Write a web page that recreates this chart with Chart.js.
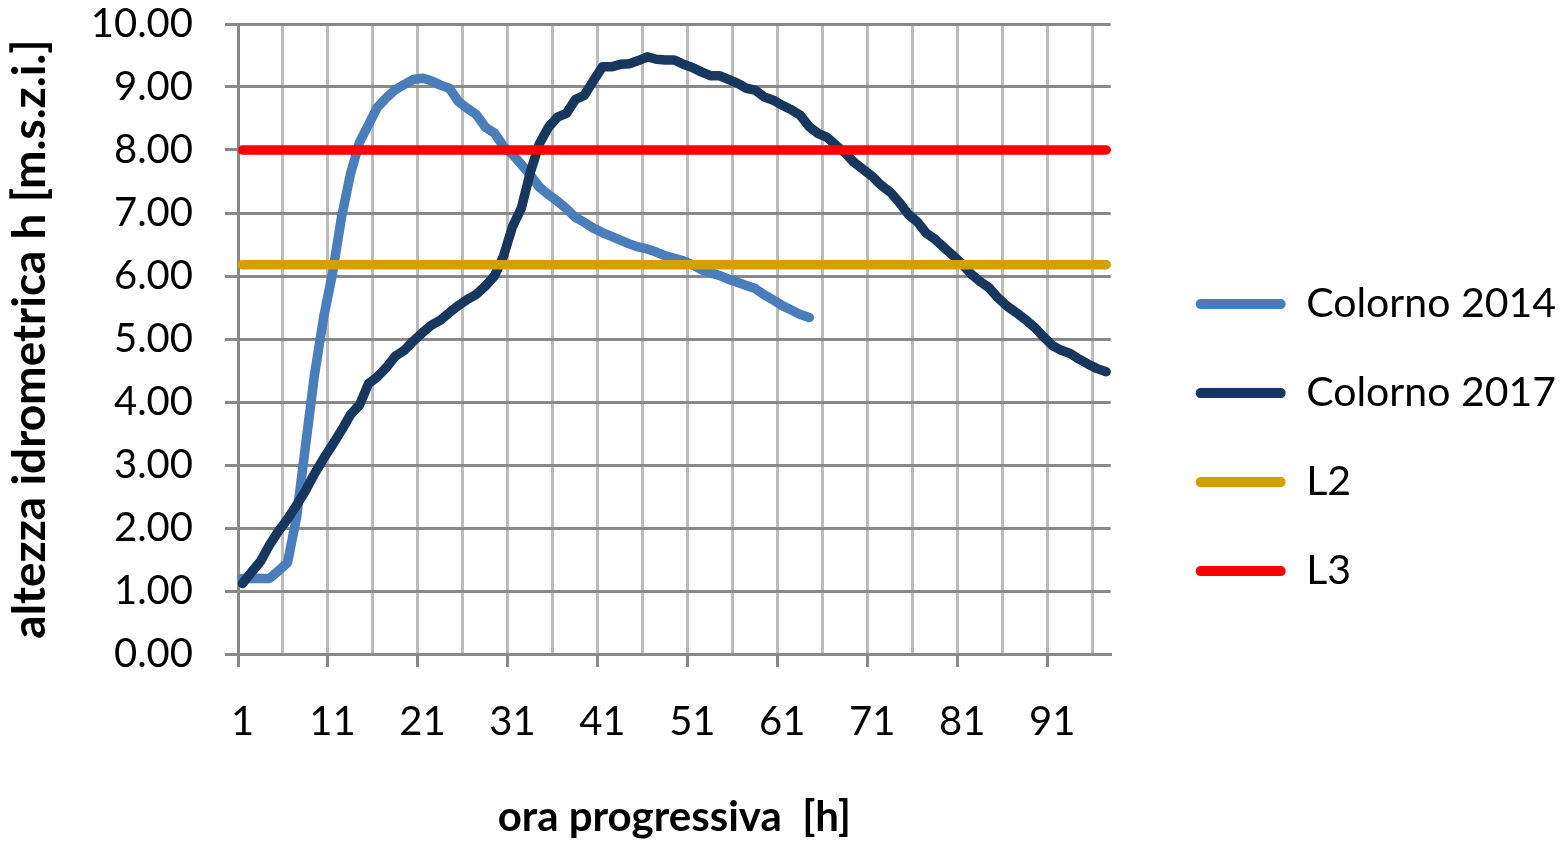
<!DOCTYPE html>
<html>
<head>
<meta charset="utf-8">
<script src="https://cdn.jsdelivr.net/npm/chart.js@4.4.1/dist/chart.umd.min.js"></script>
<style>
  html, body { margin: 0; padding: 0; background: #ffffff; }
  #wrap { width: 1566px; height: 844px; }
</style>
</head>
<body>
<div id="wrap"><canvas id="c" width="1566" height="844"></canvas></div>
<script>
// ---- data ----
const hours = [
  1, 2, 3, 4, 5, 6, 7, 8, 9, 10, 11, 12, 13, 14, 15, 16, 17, 18, 19, 20,
  21, 22, 23, 24, 25, 26, 27, 28, 29, 30, 31, 32, 33, 34, 35, 36, 37, 38, 39, 40,
  41, 42, 43, 44, 45, 46, 47, 48, 49, 50, 51, 52, 53, 54, 55, 56, 57, 58, 59, 60,
  61, 62, 63, 64, 65, 66, 67, 68, 69, 70, 71, 72, 73, 74, 75, 76, 77, 78, 79, 80,
  81, 82, 83, 84, 85, 86, 87, 88, 89, 90, 91, 92, 93, 94, 95, 96, 97
];

const colorno2014 = [
  1.20, 1.20, 1.20, 1.20, 1.32, 1.45, 2.16, 3.30, 4.43, 5.33,
  6.04, 6.93, 7.62, 8.12, 8.40, 8.68, 8.83, 8.96, 9.04, 9.12,
  9.14, 9.10, 9.03, 8.98, 8.77, 8.66, 8.56, 8.36, 8.27, 8.06,
  7.93, 7.77, 7.60, 7.41, 7.29, 7.19, 7.07, 6.93, 6.85, 6.76,
  6.69, 6.63, 6.57, 6.51, 6.46, 6.43, 6.38, 6.32, 6.28, 6.24,
  6.18, 6.10, 6.05, 6.01, 5.95, 5.90, 5.85, 5.80, 5.70, 5.62,
  5.53, 5.46, 5.39, 5.34
];

const colorno2017 = [
  1.12, 1.30, 1.47, 1.73, 1.95, 2.14, 2.36, 2.59, 2.86, 3.10,
  3.32, 3.55, 3.80, 3.95, 4.29, 4.40, 4.55, 4.73, 4.82, 4.97,
  5.10, 5.22, 5.30, 5.42, 5.53, 5.63, 5.71, 5.84, 6.00, 6.31,
  6.78, 7.08, 7.65, 8.10, 8.36, 8.52, 8.58, 8.80, 8.87, 9.10,
  9.32, 9.32, 9.36, 9.37, 9.42, 9.48, 9.44, 9.43, 9.43, 9.36,
  9.31, 9.24, 9.18, 9.18, 9.12, 9.06, 8.98, 8.95, 8.84, 8.79,
  8.71, 8.64, 8.55, 8.37, 8.26, 8.20, 8.07, 7.95, 7.80, 7.69,
  7.58, 7.44, 7.33, 7.17, 6.98, 6.86, 6.68, 6.58, 6.45, 6.32,
  6.19, 6.03, 5.91, 5.81, 5.65, 5.52, 5.42, 5.31, 5.19, 5.04,
  4.90, 4.82, 4.77, 4.68, 4.60, 4.53, 4.48
];

const levelL2 = [
  6.18, 6.18, 6.18, 6.18, 6.18, 6.18, 6.18, 6.18, 6.18, 6.18,
  6.18, 6.18, 6.18, 6.18, 6.18, 6.18, 6.18, 6.18, 6.18, 6.18,
  6.18, 6.18, 6.18, 6.18, 6.18, 6.18, 6.18, 6.18, 6.18, 6.18,
  6.18, 6.18, 6.18, 6.18, 6.18, 6.18, 6.18, 6.18, 6.18, 6.18,
  6.18, 6.18, 6.18, 6.18, 6.18, 6.18, 6.18, 6.18, 6.18, 6.18,
  6.18, 6.18, 6.18, 6.18, 6.18, 6.18, 6.18, 6.18, 6.18, 6.18,
  6.18, 6.18, 6.18, 6.18, 6.18, 6.18, 6.18, 6.18, 6.18, 6.18,
  6.18, 6.18, 6.18, 6.18, 6.18, 6.18, 6.18, 6.18, 6.18, 6.18,
  6.18, 6.18, 6.18, 6.18, 6.18, 6.18, 6.18, 6.18, 6.18, 6.18,
  6.18, 6.18, 6.18, 6.18, 6.18, 6.18, 6.18
];

const levelL3 = [
  8.00, 8.00, 8.00, 8.00, 8.00, 8.00, 8.00, 8.00, 8.00, 8.00,
  8.00, 8.00, 8.00, 8.00, 8.00, 8.00, 8.00, 8.00, 8.00, 8.00,
  8.00, 8.00, 8.00, 8.00, 8.00, 8.00, 8.00, 8.00, 8.00, 8.00,
  8.00, 8.00, 8.00, 8.00, 8.00, 8.00, 8.00, 8.00, 8.00, 8.00,
  8.00, 8.00, 8.00, 8.00, 8.00, 8.00, 8.00, 8.00, 8.00, 8.00,
  8.00, 8.00, 8.00, 8.00, 8.00, 8.00, 8.00, 8.00, 8.00, 8.00,
  8.00, 8.00, 8.00, 8.00, 8.00, 8.00, 8.00, 8.00, 8.00, 8.00,
  8.00, 8.00, 8.00, 8.00, 8.00, 8.00, 8.00, 8.00, 8.00, 8.00,
  8.00, 8.00, 8.00, 8.00, 8.00, 8.00, 8.00, 8.00, 8.00, 8.00,
  8.00, 8.00, 8.00, 8.00, 8.00, 8.00, 8.00
];

const seriesNames = ['Colorno 2014', 'Colorno 2017', 'L2', 'L3'];
const yTickMin = 0;
const yTickMax = 10;
const yTickStep = 1;
const xTitle = 'ora progressiva  [h]';
const yTitle = 'altezza idrometrica h [m.s.z.i.]';

// ---- styling ----
const FONT = 'Lato';
const GRID_DARK = '#898989';
const GRID_LIGHT = '#bcbcbc';
const CLEAR = 'rgba(0,0,0,0)';

function lineDs(label, data, color, order) {
  return {
    label: label,
    data: data,
    borderColor: color,
    backgroundColor: color,
    borderWidth: 9.5,
    pointRadius: 0,
    pointHoverRadius: 0,
    tension: 0,
    fill: false,
    borderCapStyle: 'round',
    borderJoinStyle: 'round',
    order: order
  };
}

Chart.defaults.font.family = FONT;
Chart.defaults.color = '#000000';

new Chart(document.getElementById('c'), {
  type: 'line',
  data: {
    labels: hours,
    datasets: [
      lineDs(seriesNames[0], colorno2014, '#4a7ebb', 3),
      lineDs(seriesNames[1], colorno2017, '#17375e', 2),
      lineDs(seriesNames[2], levelL2, '#d4a000', 1),
      lineDs(seriesNames[3], levelL3, '#ff0000', 0)
    ]
  },
  options: {
    responsive: false,
    devicePixelRatio: 1,
    animation: false,
    events: [],
    layout: { padding: { top: 24, right: 0, bottom: 0, left: 0 } },
    plugins: {
      tooltip: { enabled: false },
      legend: {
        position: 'right',
        align: 'center',
        maxWidth: 440,
        title: { display: true, text: '', font: { size: 6 }, padding: 0 },
        labels: {
          font: { family: FONT, size: 41 },
          color: '#000000',
          boxWidth: 90,
          boxHeight: 10,
          padding: 48,
          useBorderRadius: true,
          borderRadius: 5,
          sort: (a, b) => a.datasetIndex - b.datasetIndex,
          generateLabels: (chart) => {
            const items = Chart.defaults.plugins.legend.labels.generateLabels(chart);
            items.forEach(it => {
              it.fillStyle = it.strokeStyle;
              it.lineWidth = 0;
              it.borderRadius = 5;
            });
            return items;
          }
        }
      }
    },
    scales: {
      x: {
        type: 'category',
        offset: true,
        grid: {
          offset: true,
          lineWidth: 3,
          tickLength: 13,
          color: (ctx) => (ctx.index !== undefined && ctx.index % 5 === 0) ? GRID_LIGHT : CLEAR,
          tickColor: (ctx) => (ctx.index !== undefined && ctx.index % 10 === 0) ? GRID_DARK : CLEAR
        },
        border: { display: true, color: GRID_DARK, width: 3 },
        ticks: {
          autoSkip: false,
          maxRotation: 0,
          minRotation: 0,
          padding: 31,
          font: { family: FONT, size: 40 },
          color: '#000000',
          callback: function (value, index) {
            return index % 10 === 0 ? this.getLabelForValue(value) : '';
          }
        },
        title: {
          display: true,
          text: xTitle,
          font: { family: FONT, size: 42, weight: 'bold' },
          color: '#000000',
          padding: { top: 20, bottom: 1 }
        },
        afterFit: (scale) => {
          scale.height = 190;
          scale.paddingLeft = 0;
          scale.paddingRight = 0;
        }
      },
      y: {
        min: yTickMin,
        max: yTickMax,
        grid: {
          color: GRID_DARK,
          lineWidth: 3,
          tickLength: 13,
          tickColor: GRID_DARK
        },
        border: { display: true, color: GRID_DARK, width: 3 },
        ticks: {
          stepSize: yTickStep,
          padding: 32,
          font: { family: FONT, size: 40 },
          color: '#000000',
          callback: (v) => Number(v).toFixed(2)
        },
        title: {
          display: true,
          text: yTitle,
          font: { family: FONT, size: 46, weight: 'bold' },
          color: '#000000',
          padding: { top: 3, bottom: 10 }
        },
        afterFit: (scale) => {
          scale.width = 238;
          scale.paddingTop = 0;
          scale.paddingBottom = 0;
        }
      },
      spacer: {
        type: 'linear',
        position: 'right',
        display: true,
        grid: { display: false, drawTicks: false },
        border: { display: false },
        ticks: { display: false },
        afterFit: (scale) => { scale.width = 37; }
      }
    }
  }
});
</script>
</body>
</html>
